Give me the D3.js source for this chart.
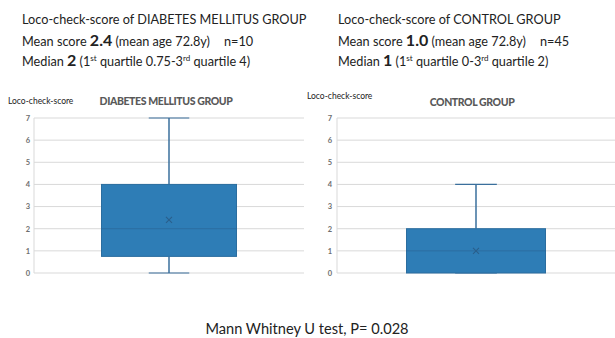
<!DOCTYPE html>
<html>
<head>
<meta charset="utf-8">
<script src="https://cdn.jsdelivr.net/npm/d3@7"></script>
<style>
  html, body { margin: 0; padding: 0; background: #fff; }
  svg { display: block; }
  text { font-family: Lato, "Open Sans", sans-serif; }
</style>
</head>
<body>
<svg id="chart" width="615" height="338"></svg>
<script>
// Loco-check-score distributions per group
const groups   = ["DIABETES MELLITUS GROUP", "CONTROL GROUP"];
const minVals  = [0, 0];
const q1Vals   = [0.75, 0];
const medians  = [2, 1];
const q3Vals   = [4, 2];
const maxVals  = [7, 4];
const means    = [2.4, 1.0];
const counts   = [10, 45];
const meanAges = [72.8, 72.8];
const yTicks   = [0, 1, 2, 3, 4, 5, 6, 7];

const svg = d3.select("#chart");

// Panel frames (plot areas)
const panels = [
  { x0: 34, x1: 304, top: 118, bottom: 273, tickX: 30, titleX: 166, titleY: 105, yLabX: 8, yLabY: 104, headX: 22 },
  { x0: 337, x1: 615, top: 118, bottom: 273, tickX: 332, titleX: 472, titleY: 106, yLabX: 307, yLabY: 99, headX: 338 }
];

const boxFill = "#2e7db6";
const boxStroke = "#2b6d9f";
const whiskerColor = "#3a6f9c";
const gridColor = "#d9d9d9";

// Header text blocks
groups.forEach((g, i) => {
  const p = panels[i];
  const head = svg.append("g").attr("fill", "#222").style("font-size", "12.7px");
  head.append("text").attr("x", p.headX).attr("y", 24)
    .text("Loco-check-score of " + g);
  const l2 = head.append("text").attr("x", p.headX).attr("y", 46);
  l2.append("tspan").text("Mean score ");
  l2.append("tspan").style("font-weight", "bold").style("font-size", "16px").text(d3.format(".1f")(means[i]));
  l2.append("tspan").text(" (mean age " + meanAges[i] + "y)");
  l2.append("tspan").attr("dx", 14).text("n=" + counts[i]);
  const l3 = head.append("text").attr("x", p.headX).attr("y", 66);
  l3.append("tspan").text("Median ");
  l3.append("tspan").style("font-weight", "bold").style("font-size", "16px").text(medians[i]);
  l3.append("tspan").text(" (1");
  l3.append("tspan").attr("dy", -5).style("font-size", "8px").text("st");
  l3.append("tspan").attr("dy", 5).text(" quartile " + q1Vals[i] + "-3");
  l3.append("tspan").attr("dy", -5).style("font-size", "8px").text("rd");
  l3.append("tspan").attr("dy", 5).text(" quartile " + q3Vals[i] + ")");
});

// Box plot panels
groups.forEach((g, i) => {
  const p = panels[i];
  const y = d3.scaleLinear().domain([0, 7]).range([p.bottom, p.top]);
  const x = d3.scaleBand().domain([g]).range([p.x0, p.x1]).paddingInner(1 / 3).paddingOuter(1 / 3);
  const gp = svg.append("g");

  // gridlines
  gp.append("g").selectAll("line").data(yTicks).join("line")
    .attr("x1", p.x0).attr("x2", p.x1)
    .attr("y1", d => y(d)).attr("y2", d => y(d))
    .attr("stroke", gridColor).attr("stroke-width", 1);
  // left axis line
  gp.append("line").attr("x1", p.x0).attr("x2", p.x0)
    .attr("y1", y(0)).attr("y2", y(7)).attr("stroke", gridColor);

  // tick labels
  const axis = d3.axisLeft(y).tickValues(yTicks).tickSize(0).tickPadding(0).tickFormat(d3.format("d"));
  const ax = gp.append("g").attr("transform", `translate(${p.tickX},0)`).call(axis);
  ax.select(".domain").remove();
  ax.selectAll("text").attr("fill", "#6e6e6e").style("font-size", "7.5px").style("font-weight", "bold")
    .style("font-family", "Lato, sans-serif");

  // titles
  gp.append("text").attr("x", p.titleX).attr("y", p.titleY).attr("text-anchor", "middle")
    .attr("fill", "#595959").style("font-size", "10.5px").style("font-weight", "900")
    .style("letter-spacing", "-0.4px").text(g);
  gp.append("text").attr("x", p.yLabX).attr("y", p.yLabY)
    .attr("fill", "#222").style("font-size", "8.5px").text("Loco-check-score");

  const cx = x(g) + x.bandwidth() / 2;
  const capW = x.bandwidth() * 0.3;

  // whiskers
  gp.append("line").attr("x1", cx).attr("x2", cx).attr("y1", y(q3Vals[i])).attr("y2", y(maxVals[i]))
    .attr("stroke", whiskerColor).attr("stroke-width", 1.5);
  gp.append("line").attr("x1", cx).attr("x2", cx).attr("y1", y(q1Vals[i])).attr("y2", y(minVals[i]))
    .attr("stroke", whiskerColor).attr("stroke-width", 1.5);
  [maxVals[i], minVals[i]].forEach(v => {
    gp.append("line").attr("x1", cx - capW / 2).attr("x2", cx + capW / 2)
      .attr("y1", y(v)).attr("y2", y(v)).attr("stroke", whiskerColor).attr("stroke-width", 1.2);
  });

  // box
  gp.append("rect").attr("x", x(g)).attr("width", x.bandwidth())
    .attr("y", y(q3Vals[i])).attr("height", y(q1Vals[i]) - y(q3Vals[i]))
    .attr("fill", boxFill).attr("stroke", boxStroke).attr("stroke-width", 1);

  // median line
  gp.append("line").attr("x1", x(g)).attr("x2", x(g) + x.bandwidth())
    .attr("y1", y(medians[i])).attr("y2", y(medians[i]))
    .attr("stroke", "#2a6394").attr("stroke-width", 1).attr("stroke-opacity", 0.6);

  // mean marker
  const m = 3;
  const my = y(means[i]);
  gp.append("path")
    .attr("d", `M${cx - m},${my - m}L${cx + m},${my + m}M${cx - m},${my + m}L${cx + m},${my - m}`)
    .attr("stroke", "#2a5f8c").attr("stroke-width", 1.1).attr("fill", "none");
});

// Test result caption
svg.append("text").attr("x", 307).attr("y", 334).attr("text-anchor", "middle")
  .attr("fill", "#222").style("font-size", "14.6px").text("Mann Whitney U test, P= 0.028");
</script>
</body>
</html>
